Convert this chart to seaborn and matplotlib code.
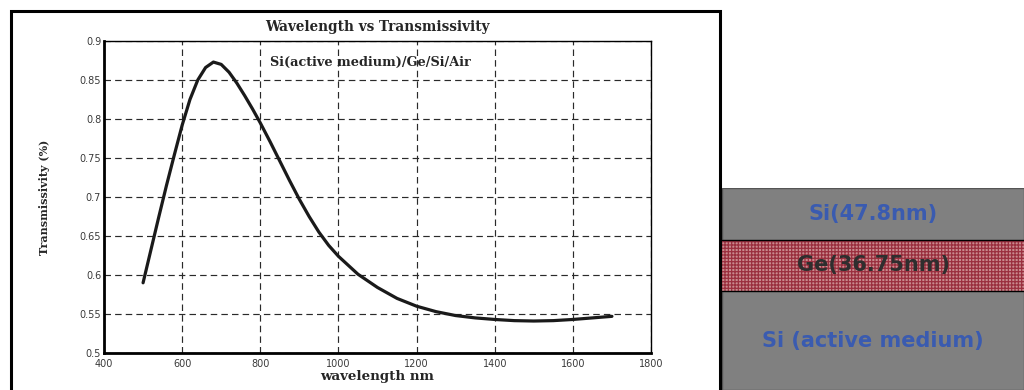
import numpy as np
import pandas as pd
import matplotlib
matplotlib.use('Agg')
import matplotlib.pyplot as plt
from matplotlib.patches import Rectangle
import seaborn as sns

# Data
wavelength = [500, 520, 540, 560, 580, 600, 620, 640, 660, 680, 700, 720, 740, 760,
              780, 800, 825, 850, 875, 900, 925, 950, 975, 1000, 1050, 1100, 1150,
              1200, 1250, 1300, 1350, 1400, 1450, 1500, 1550, 1600, 1650, 1700]
transmissivity = [0.590, 0.632, 0.674, 0.715, 0.754, 0.792, 0.825, 0.850, 0.866, 0.873,
                  0.870, 0.860, 0.846, 0.830, 0.813, 0.795, 0.771, 0.746, 0.721, 0.697,
                  0.675, 0.655, 0.638, 0.624, 0.601, 0.584, 0.570, 0.560, 0.553, 0.548,
                  0.545, 0.543, 0.5415, 0.541, 0.5415, 0.543, 0.545, 0.547]

x_ticks = [400, 600, 800, 1000, 1200, 1400, 1600, 1800]
y_ticks = [0.5, 0.55, 0.6, 0.65, 0.7, 0.75, 0.8, 0.85, 0.9]
y_tick_labels = ['0.5', '0.55', '0.6', '0.65', '0.7', '0.75', '0.8', '0.85', '0.9']

layers = ['Si (active medium)', 'Ge(36.75nm)', 'Si(47.8nm)']

df = pd.DataFrame({'wavelength': wavelength, 'T': transmissivity})

sns.set_style('white')
plt.rcParams['hatch.linewidth'] = 0.9
fig = plt.figure(figsize=(10.24, 3.9), dpi=100)

# Outer frame around the plot panel
fig.patches.append(Rectangle((11 / 1024, -0.05), 709 / 1024, 1.05 - 11 / 390,
                             transform=fig.transFigure, fill=False,
                             edgecolor='black', linewidth=2.2, zorder=0))

ax = fig.add_axes([104 / 1024, 37 / 390, 547 / 1024, 312 / 390])
sns.lineplot(data=df, x='wavelength', y='T', ax=ax, color='#1a1a1a', linewidth=2.3)

ax.set_xlim(400, 1800)
ax.set_ylim(0.5, 0.9)
ax.set_xticks(x_ticks)
ax.set_yticks(y_ticks)
ax.set_xticklabels([str(t) for t in x_ticks])
ax.set_yticklabels(y_tick_labels)
ax.tick_params(direction='in', length=3, labelsize=7, labelcolor='#3a3a3a', pad=2)
ax.tick_params(axis='x', pad=4)
ax.grid(True, color='#2a2a2a', linestyle=(0, (5.5, 3.5)), linewidth=0.85)
for s in ['left', 'bottom']:
    ax.spines[s].set_linewidth(2)
for s in ['top', 'right']:
    ax.spines[s].set_linewidth(1)
for s in ax.spines.values():
    s.set_color('black')

ax.set_title('Wavelength vs Transmissivity', family='serif', fontweight='bold',
             fontsize=9.8, pad=7)
ax.set_xlabel('wavelength nm', family='serif', fontweight='bold', fontsize=9.6, labelpad=1)
ax.set_ylabel('Transmissivity (%)', family='serif', fontweight='bold', fontsize=8, labelpad=21)
ax.text(1081, 0.872, 'Si(active medium)/Ge/Si/Air', family='serif', fontweight='bold',
        fontsize=9.3, ha='center', va='center')

# Layer stack diagram
ax2 = fig.add_axes([722 / 1024, 0, 302 / 1024, 202 / 390])
ax2.set_xlim(0, 1)
ax2.set_ylim(0, 202)
ax2.axis('off')
ax2.add_patch(Rectangle((0, 0), 1, 202, facecolor='#808080', edgecolor='#555555', linewidth=1))
ax2.add_patch(Rectangle((0, 99), 1, 51, facecolor='#c98a8e', edgecolor='#9a2f3e',
                        hatch='+++++', linewidth=0))
ax2.plot([0, 1], [99, 99], color='black', linewidth=1)
ax2.plot([0, 1], [150, 150], color='black', linewidth=1)
ax2.text(0.5, 49, layers[0], ha='center', va='center', fontsize=15, fontweight='bold',
         color='#3a5bb0', family='DejaVu Sans')
ax2.text(0.5, 125, layers[1], ha='center', va='center', fontsize=15, fontweight='bold',
         color='#2e2e2e', family='DejaVu Sans')
ax2.text(0.5, 176, layers[2], ha='center', va='center', fontsize=15, fontweight='bold',
         color='#3a5bb0', family='DejaVu Sans')

fig.savefig('out.png', dpi=100)
